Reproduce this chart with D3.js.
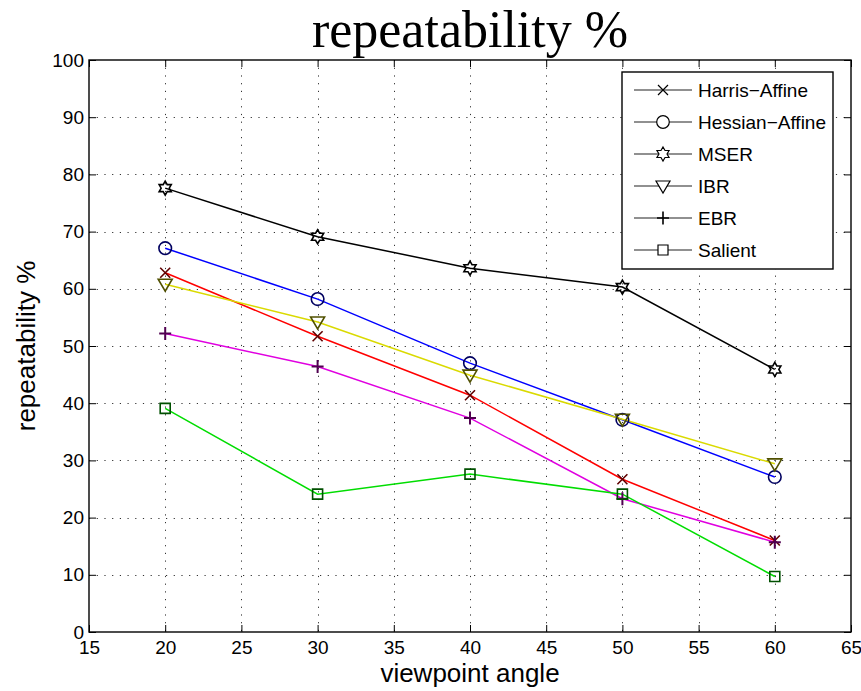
<!DOCTYPE html>
<html>
<head>
<meta charset="utf-8">
<title>repeatability %</title>
<script src="https://d3js.org/d3.v7.min.js"></script>
<style>
  body { margin: 0; background: #fff; }
  svg { display: block; }
  text { font-family: "Liberation Sans", Arial, sans-serif; fill: #000; }
</style>
</head>
<body>
<div id="chart"></div>
<script>
// x values: viewpoint angle
var angles = [20, 30, 40, 50, 60];

// repeatability % per detector
var harrisAffine  = [62.8, 51.7, 41.4, 26.7, 16.0];
var hessianAffine = [67.1, 58.2, 47.0, 37.1, 27.1];
var mser          = [77.6, 69.1, 63.6, 60.3, 45.9];
var ibr           = [60.8, 54.2, 44.9, 37.2, 29.4];
var ebr           = [52.2, 46.4, 37.4, 23.3, 15.7];
var salient       = [39.1, 24.1, 27.6, 24.1, 9.7];

var seriesNames = ['Harris\u2212Affine', 'Hessian\u2212Affine', 'MSER', 'IBR', 'EBR', 'Salient'];

// axis ticks
var xTicks = [15, 20, 25, 30, 35, 40, 45, 50, 55, 60, 65];
var yTicks = [0, 10, 20, 30, 40, 50, 60, 70, 80, 90, 100];

// look of each series
var series = [
  { name: seriesNames[0], values: harrisAffine,  line: '#ff0000', marker: '#600000', shape: 'x' },
  { name: seriesNames[1], values: hessianAffine, line: '#0000ff', marker: '#000060', shape: 'o' },
  { name: seriesNames[2], values: mser,          line: '#000000', marker: '#000000', shape: 'hex' },
  { name: seriesNames[3], values: ibr,           line: '#dada00', marker: '#505000', shape: 'v' },
  { name: seriesNames[4], values: ebr,           line: '#e000e0', marker: '#500050', shape: '+' },
  { name: seriesNames[5], values: salient,       line: '#00dd00', marker: '#005000', shape: 's' }
];

var width = 861, height = 691;
var plotLeft = 89, plotRight = 851, plotTop = 60, plotBottom = 632;

var svg = d3.select('#chart').append('svg')
  .attr('width', width)
  .attr('height', height);

svg.append('rect').attr('width', width).attr('height', height).attr('fill', '#fff');

var x = d3.scaleLinear().domain([15, 65]).range([plotLeft, plotRight]);
var y = d3.scaleLinear().domain([0, 100]).range([plotBottom, plotTop]);

// dotted grid
var grid = svg.append('g')
  .attr('stroke', '#333')
  .attr('stroke-width', 1)
  .attr('stroke-dasharray', '1.2,6.5');

grid.selectAll('.gx')
  .data(xTicks.slice(1, -1))
  .enter().append('line')
    .attr('x1', function (d) { return Math.round(x(d)) + 0.5; })
    .attr('x2', function (d) { return Math.round(x(d)) + 0.5; })
    .attr('y1', plotTop)
    .attr('y2', plotBottom);

grid.selectAll('.gy')
  .data(yTicks.slice(1, -1))
  .enter().append('line')
    .attr('y1', function (d) { return Math.round(y(d)) + 0.5; })
    .attr('y2', function (d) { return Math.round(y(d)) + 0.5; })
    .attr('x1', plotLeft)
    .attr('x2', plotRight);

// axes (ticks point inward)
function styleAxis(g) {
  g.select('.domain').remove();
  g.selectAll('.tick line').attr('stroke', '#000');
  g.selectAll('.tick text').style('font-size', '19px').attr('fill', '#000');
}

svg.append('g')
  .attr('transform', 'translate(0,' + plotBottom + ')')
  .call(d3.axisBottom(x).tickValues(xTicks).tickSizeInner(-7).tickSizeOuter(0).tickPadding(9))
  .call(styleAxis);

svg.append('g')
  .attr('transform', 'translate(0,' + plotTop + ')')
  .call(d3.axisTop(x).tickValues(xTicks).tickSizeInner(-7).tickSizeOuter(0).tickFormat(''))
  .call(styleAxis);

svg.append('g')
  .attr('transform', 'translate(' + plotLeft + ',0)')
  .call(d3.axisLeft(y).tickValues(yTicks).tickSizeInner(-7).tickSizeOuter(0).tickPadding(5))
  .call(styleAxis);

svg.append('g')
  .attr('transform', 'translate(' + plotRight + ',0)')
  .call(d3.axisRight(y).tickValues(yTicks).tickSizeInner(-7).tickSizeOuter(0).tickFormat(''))
  .call(styleAxis);

// frame
svg.append('rect')
  .attr('x', plotLeft).attr('y', plotTop)
  .attr('width', plotRight - plotLeft).attr('height', plotBottom - plotTop)
  .attr('fill', 'none')
  .attr('stroke', '#000')
  .attr('stroke-width', 1.4);

// marker shapes
function markerPath(shape) {
  var p = d3.path();
  if (shape === 'x') {
    p.moveTo(-5, -5); p.lineTo(5, 5);
    p.moveTo(-5, 5); p.lineTo(5, -5);
  } else if (shape === 'o') {
    p.moveTo(6.3, 0); p.arc(0, 0, 6.3, 0, 2 * Math.PI);
  } else if (shape === 'hex') {
    var R = 7, r = R / Math.sqrt(3);
    for (var i = 0; i < 12; i++) {
      var a = -Math.PI / 2 + i * Math.PI / 6;
      var rr = i % 2 === 0 ? R : r;
      if (i === 0) p.moveTo(rr * Math.cos(a), rr * Math.sin(a));
      else p.lineTo(rr * Math.cos(a), rr * Math.sin(a));
    }
    p.closePath();
  } else if (shape === 'v') {
    p.moveTo(-7, -5); p.lineTo(7, -5); p.lineTo(0, 7); p.closePath();
  } else if (shape === '+') {
    p.moveTo(-6, 0); p.lineTo(6, 0);
    p.moveTo(0, -6.5); p.lineTo(0, 6.5);
  } else if (shape === 's') {
    p.rect(-5, -5, 10, 10);
  }
  return p.toString();
}

var line = d3.line()
  .x(function (d, i) { return x(angles[i]); })
  .y(function (d) { return y(d); });

var plot = svg.append('g');

series.forEach(function (s) {
  plot.append('path')
    .datum(s.values)
    .attr('d', line)
    .attr('fill', 'none')
    .attr('stroke', s.line)
    .attr('stroke-width', 1.5);
});

series.forEach(function (s) {
  plot.selectAll(null)
    .data(s.values)
    .enter().append('path')
      .attr('transform', function (d, i) { return 'translate(' + x(angles[i]) + ',' + y(d) + ')'; })
      .attr('d', markerPath(s.shape))
      .attr('fill', 'none')
      .attr('stroke', s.marker)
      .attr('stroke-width', s.shape === '+' ? 2 : 1.6);
});

// legend
var legend = svg.append('g').attr('transform', 'translate(622,72)');

legend.append('rect')
  .attr('width', 211).attr('height', 197)
  .attr('fill', '#fff')
  .attr('stroke', '#000')
  .attr('stroke-width', 1.4);

var items = legend.selectAll('.item')
  .data(series)
  .enter().append('g')
    .attr('transform', function (d, i) { return 'translate(0,' + (18 + i * 32) + ')'; });

items.append('line')
  .attr('x1', 12).attr('x2', 70)
  .attr('stroke', '#222')
  .attr('stroke-width', 1.2);

items.append('path')
  .attr('transform', 'translate(41,0)')
  .attr('d', function (d) { return markerPath(d.shape); })
  .attr('fill', '#fff')
  .attr('stroke', '#000')
  .attr('stroke-width', function (d) { return d.shape === '+' ? 1.6 : 1.2; });

items.append('text')
  .attr('x', 76)
  .attr('dy', '0.35em')
  .style('font-size', '19px')
  .text(function (d) { return d.name; });

// title and axis labels
svg.append('text')
  .attr('x', (plotLeft + plotRight) / 2)
  .attr('y', 47)
  .attr('text-anchor', 'middle')
  .style('font-family', '"Liberation Serif", "Times New Roman", serif')
  .style('font-size', '52px')
  .text('repeatability %');

svg.append('text')
  .attr('x', (plotLeft + plotRight) / 2)
  .attr('y', 682)
  .attr('text-anchor', 'middle')
  .style('font-size', '26px')
  .text('viewpoint angle');

svg.append('text')
  .attr('transform', 'translate(35,' + (plotTop + plotBottom) / 2 + ') rotate(-90)')
  .attr('text-anchor', 'middle')
  .style('font-size', '26px')
  .text('repeatability %');
</script>
</body>
</html>
